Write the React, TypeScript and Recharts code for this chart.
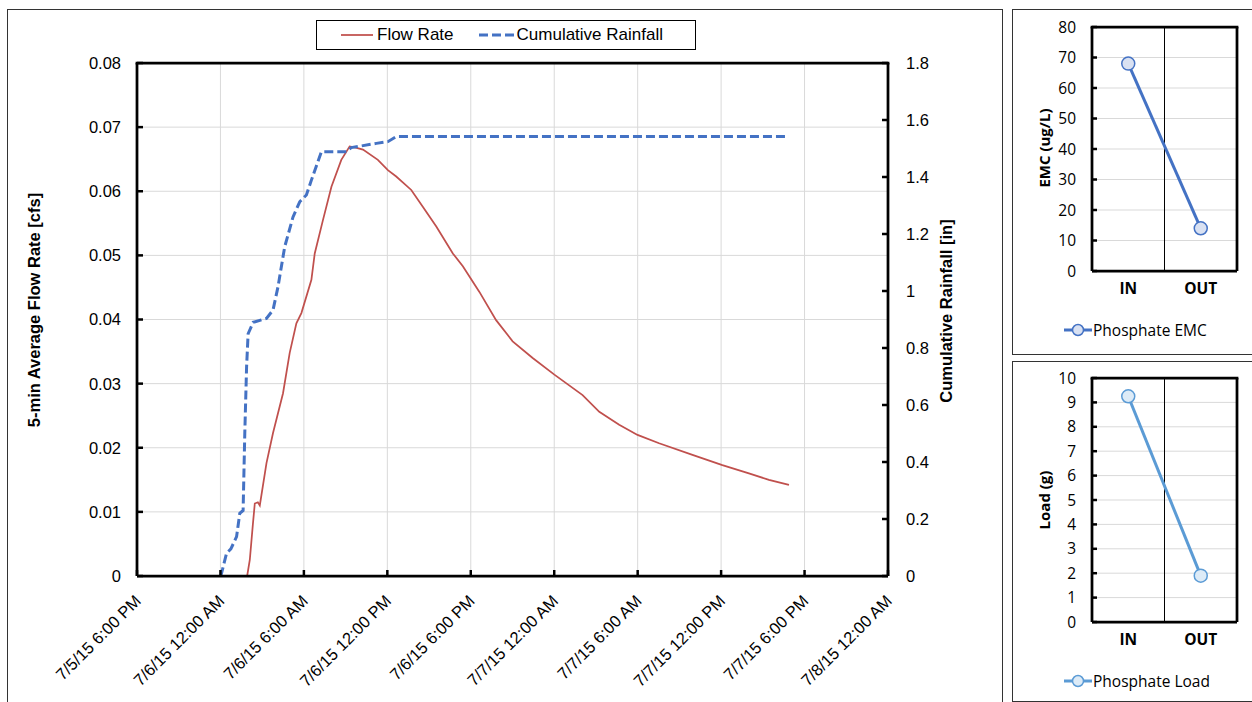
import React from "react";
import { LineChart, Line, XAxis, YAxis, CartesianGrid, ReferenceLine } from "recharts";

// hours after 7/5/15 6:00 PM
const flowHours = [6.08, 7.92, 8.11, 8.33, 8.47, 8.69, 8.83, 9.31, 9.78, 10.5, 10.98, 11.46, 11.82, 12.54, 12.78, 13.37, 13.98, 14.69, 15.29, 15.72, 16.25, 17.32, 18.04, 18.64, 19.72, 20.55, 21.52, 22.71, 23.43, 24.62, 25.82, 27.01, 28.45, 30.01, 32.04, 33.24, 34.67, 35.99, 37.54, 39.94, 42.09, 44.0, 45.44, 46.88];
const flowRate = [0, 0, 0.0025, 0.008, 0.0113, 0.0115, 0.011, 0.0176, 0.0223, 0.0285, 0.0348, 0.0394, 0.041, 0.0462, 0.0503, 0.0555, 0.0607, 0.0649, 0.067, 0.0668, 0.0665, 0.0649, 0.0633, 0.0623, 0.0602, 0.0576, 0.0545, 0.0503, 0.0483, 0.0443, 0.0399, 0.0366, 0.034, 0.0314, 0.0282, 0.0256, 0.0236, 0.022, 0.0207, 0.0189, 0.0173, 0.016, 0.015, 0.0142];

const rainHours = [6.03, 6.44, 6.75, 7.16, 7.39, 7.63, 7.75, 7.88, 7.99, 8.35, 9.31, 9.78, 10.14, 10.62, 11.22, 11.7, 12.18, 12.54, 13.26, 15.05, 15.41, 17.21, 18.04, 18.64, 46.88];
const rainCum = [0, 0.08, 0.095, 0.138, 0.22, 0.23, 0.5, 0.734, 0.85, 0.89, 0.904, 0.933, 1.015, 1.155, 1.26, 1.313, 1.337, 1.389, 1.489, 1.489, 1.503, 1.518, 1.524, 1.542, 1.542];

const timeTicks = [0, 6, 12, 18, 24, 30, 36, 42, 48, 54];
const timeLabels = ["7/5/15 6:00 PM", "7/6/15 12:00 AM", "7/6/15 6:00 AM", "7/6/15 12:00 PM", "7/6/15 6:00 PM", "7/7/15 12:00 AM", "7/7/15 6:00 AM", "7/7/15 12:00 PM", "7/7/15 6:00 PM", "7/8/15 12:00 AM"];
const flowTicks = [0, 0.01, 0.02, 0.03, 0.04, 0.05, 0.06, 0.07, 0.08];
const rainTicks = [0, 0.2, 0.4, 0.6, 0.8, 1, 1.2, 1.4, 1.6, 1.8];

const sites = ["IN", "OUT"];
const emcValues = [68, 14];
const loadValues = [9.25, 1.9];
const emcTicks = [0, 10, 20, 30, 40, 50, 60, 70, 80];
const loadTicks = [0, 1, 2, 3, 4, 5, 6, 7, 8, 9, 10];

const hours = Array.from(new Set([...flowHours, ...rainHours])).sort((a, b) => a - b);
const mainData = hours.map((h) => {
  const fi = flowHours.indexOf(h);
  const ri = rainHours.indexOf(h);
  return { h, flow: fi >= 0 ? flowRate[fi] : null, rain: ri >= 0 ? rainCum[ri] : null };
});

const ARIAL = "'Liberation Sans', Arial, sans-serif";
const SANS = "'Open Sans', 'Noto Sans', sans-serif";
const BORDER = { stroke: "#000", strokeWidth: 2.75 };

const TimeTick = (props: any) => {
  const { x, y, payload } = props;
  const i = timeTicks.indexOf(payload.value);
  return (
    <g>
      <line x1={x} y1={y} x2={x} y2={y - 6} stroke="#000" strokeWidth={2.5} />
      <text
        x={0}
        y={0}
        transform={`translate(${x + 5},${y + 26}) rotate(-45)`}
        textAnchor="end"
        fontSize={16.5}
        fontFamily={ARIAL}
        fill="#000"
      >
        {timeLabels[i]}
      </text>
    </g>
  );
};

// y-axis tick with an inward tick mark; side = -1 for a left axis, 1 for a right axis
const makeYTick = (side: number, gap: number, len: number, fmt: (v: number) => string, font: string, size: number) =>
  (props: any) => {
    const { x, y, payload } = props;
    return (
      <g>
        <line x1={x} y1={y} x2={x - side * len} y2={y} stroke="#000" strokeWidth={2.5} />
        <text
          x={x + side * gap}
          y={y}
          dy="0.36em"
          textAnchor={side < 0 ? "end" : "start"}
          fontSize={size}
          fontFamily={font}
          fill="#000"
        >
          {fmt(payload.value)}
        </text>
      </g>
    );
  };

const FlowTick = makeYTick(-1, 16, 6, (v) => (v === 0 ? "0" : v.toFixed(2)), ARIAL, 16.5);
const RainTick = makeYTick(1, 18, 6, (v) => String(Number(v.toFixed(1))), ARIAL, 16.5);
const SideTick = makeYTick(-1, 16, 5, (v) => String(v), SANS, 15.5);

function VTitle({ text, x, y, font, size }: { text: string; x: number; y: number; font: string; size: number }) {
  return (
    <div
      style={{
        position: "absolute",
        left: x,
        top: y,
        transform: "translate(-50%, -50%) rotate(-90deg)",
        whiteSpace: "nowrap",
        fontFamily: font,
        fontWeight: 700,
        fontSize: size,
        color: "#000",
      }}
    >
      {text}
    </div>
  );
}

interface SideProps {
  values: number[];
  ticks: number[];
  color: string;
  fill: string;
  top: number;
  height: number;
  marginTop: number;
  title: string;
  titleY: number;
  legend: string;
  legendY: number;
}

function SideChart({ values, ticks, color, fill, top, height, marginTop, title, titleY, legend, legendY }: SideProps) {
  const data = sites.map((s, i) => ({ x: i + 0.5, site: s, v: values[i] }));
  const max = ticks[ticks.length - 1];
  const plotH = 244;
  return (
    <>
      <div style={{ position: "absolute", left: 1012, top, width: 260, height, border: "1px solid #333", boxSizing: "border-box" }} />
      <div style={{ position: "absolute", left: 1012, top }}>
        <LineChart width={240} height={height} data={data} margin={{ top: marginTop, right: 15, bottom: 0, left: 0 }}>
          <CartesianGrid yAxisId="v" vertical={false} stroke="#d9d9d9" />
          <XAxis
            dataKey="x"
            type="number"
            domain={[0, 2]}
            ticks={[0.5, 1.5]}
            interval={0}
            tickFormatter={(v: number) => sites[Math.floor(v)]}
            height={height - marginTop - plotH}
            axisLine={BORDER}
            tickLine={false}
            tickSize={0}
            tickMargin={12}
            tick={{ fill: "#000", fontSize: 15.5, fontWeight: 700, fontFamily: SANS }}
          />
          <YAxis
            yAxisId="v"
            domain={[0, max]}
            ticks={ticks}
            interval={0}
            width={80}
            axisLine={BORDER}
            tickLine={false}
            tickSize={0}
            tickMargin={0}
            tick={<SideTick />}
          />
          <ReferenceLine yAxisId="v" x={1} stroke="#000" strokeWidth={1} />
          <ReferenceLine yAxisId="v" x={2} {...BORDER} />
          <ReferenceLine yAxisId="v" y={max} {...BORDER} strokeLinecap="square" />
          <Line
            yAxisId="v"
            dataKey="v"
            stroke={color}
            strokeWidth={3}
            dot={{ r: 6.5, fill, stroke: color, strokeWidth: 1.5 }}
            isAnimationActive={false}
          />
        </LineChart>
      </div>
      <VTitle text={title} x={1044} y={titleY} font={SANS} size={15} />
      <div style={{ position: "absolute", left: 1063, top: legendY - 11, display: "flex", alignItems: "center", fontFamily: SANS, fontSize: 15.5, color: "#000", whiteSpace: "nowrap" }}>
        <svg width={30} height={22}>
          <line x1={1} y1={11} x2={29} y2={11} stroke={color} strokeWidth={3} />
          <circle cx={15} cy={11} r={5.5} fill={fill} stroke={color} strokeWidth={1.5} />
        </svg>
        <span>{legend}</span>
      </div>
    </>
  );
}

export default function App() {
  return (
    <div style={{ position: "relative", width: 1252, height: 702, overflow: "hidden", background: "#fff" }}>
      <style>{"body{margin:0}"}</style>
      <div style={{ position: "absolute", left: 7, top: 9, width: 996, height: 720, border: "1px solid #333", boxSizing: "border-box" }} />
      <div style={{ position: "absolute", left: 0, top: 0 }}>
        <LineChart width={1003} height={702} data={mainData} margin={{ top: 63, right: 0, bottom: 0, left: 0 }}>
          <CartesianGrid yAxisId="flow" stroke="#d9d9d9" />
          <XAxis
            dataKey="h"
            type="number"
            domain={[0, 54]}
            ticks={timeTicks}
            interval={0}
            height={126}
            axisLine={BORDER}
            tickLine={false}
            tickSize={0}
            tickMargin={0}
            tick={<TimeTick />}
          />
          <YAxis
            yAxisId="flow"
            domain={[0, 0.08]}
            ticks={flowTicks}
            interval={0}
            width={137}
            axisLine={BORDER}
            tickLine={false}
            tickSize={0}
            tickMargin={0}
            tick={<FlowTick />}
          />
          <YAxis
            yAxisId="rain"
            orientation="right"
            domain={[0, 1.8]}
            ticks={rainTicks}
            interval={0}
            width={115}
            axisLine={BORDER}
            tickLine={false}
            tickSize={0}
            tickMargin={0}
            tick={<RainTick />}
          />
          <ReferenceLine yAxisId="flow" y={0.08} {...BORDER} strokeLinecap="square" />
          <Line
            yAxisId="flow"
            dataKey="flow"
            type="linear"
            stroke="#C0504D"
            strokeWidth={1.75}
            dot={false}
            connectNulls
            isAnimationActive={false}
          />
          <Line
            yAxisId="rain"
            dataKey="rain"
            type="linear"
            stroke="#4472C4"
            strokeWidth={3}
            strokeDasharray="9 4"
            dot={false}
            connectNulls
            isAnimationActive={false}
          />
        </LineChart>
      </div>
      <VTitle text="5-min Average Flow Rate [cfs]" x={34} y={310} font={ARIAL} size={16.5} />
      <VTitle text="Cumulative Rainfall [in]" x={946} y={311} font={ARIAL} size={16.5} />
      <div
        style={{
          position: "absolute",
          left: 316,
          top: 20,
          width: 380,
          height: 30,
          border: "1px solid #000",
          boxSizing: "border-box",
          display: "flex",
          alignItems: "center",
          fontFamily: ARIAL,
          fontSize: 17,
          color: "#000",
          whiteSpace: "nowrap",
        }}
      >
        <svg width={36} height={10} style={{ marginLeft: 24 }}>
          <line x1={0} y1={5} x2={32} y2={5} stroke="#C0504D" strokeWidth={1.75} />
        </svg>
        <span>Flow Rate</span>
        <svg width={38} height={10} style={{ marginLeft: 25 }}>
          <line x1={0} y1={5} x2={35} y2={5} stroke="#4472C4" strokeWidth={3} strokeDasharray="9 4" />
        </svg>
        <span>Cumulative Rainfall</span>
      </div>
      <SideChart
        values={emcValues}
        ticks={emcTicks}
        color="#4472C4"
        fill="#D9E1F2"
        top={9}
        height={346}
        marginTop={18}
        title="EMC (ug/L)"
        titleY={148}
        legend="Phosphate EMC"
        legendY={330}
      />
      <SideChart
        values={loadValues}
        ticks={loadTicks}
        color="#5B9BD5"
        fill="#DDEBF7"
        top={361}
        height={341}
        marginTop={17}
        title="Load (g)"
        titleY={500}
        legend="Phosphate Load"
        legendY={681}
      />
    </div>
  );
}
